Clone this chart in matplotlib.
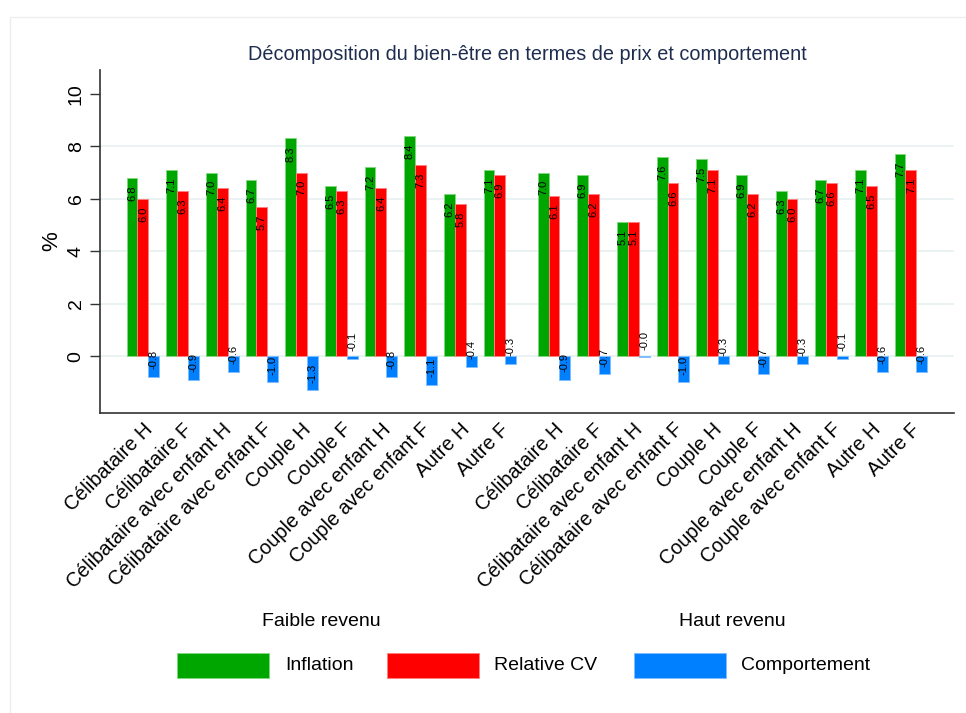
import matplotlib
matplotlib.use("Agg")
import matplotlib.pyplot as plt
from matplotlib.patches import Rectangle
from matplotlib.transforms import blended_transform_factory
import numpy as np

plt.rcParams['font.family'] = ['Liberation Sans', 'DejaVu Sans']

categories = ["Célibataire H", "Célibataire F", "Célibataire avec enfant H",
              "Célibataire avec enfant F", "Couple H", "Couple F",
              "Couple avec enfant H", "Couple avec enfant F", "Autre H", "Autre F"]
groups = ["Faible revenu", "Haut revenu"]
series_names = ["Inflation", "Relative CV", "Comportement"]

inflation_low = [6.8, 7.1, 7.0, 6.7, 8.3, 6.5, 7.2, 8.4, 6.2, 7.1]
relcv_low = [6.0, 6.3, 6.4, 5.7, 7.0, 6.3, 6.4, 7.3, 5.8, 6.9]
comport_low = [-0.8, -0.9, -0.6, -1.0, -1.3, -0.1, -0.8, -1.1, -0.4, -0.3]

inflation_high = [7.0, 6.9, 5.1, 7.6, 7.5, 6.9, 6.3, 6.7, 7.1, 7.7]
relcv_high = [6.1, 6.2, 5.1, 6.6, 7.1, 6.2, 6.0, 6.6, 6.5, 7.1]
comport_high = [-0.9, -0.7, -0.04, -1.0, -0.3, -0.7, -0.3, -0.1, -0.6, -0.6]

colors = ["#00a600", "#ff0000", "#0080ff"]
edges = ["#80d880", "#ff8080", "#80c0ff"]

W, H = 966, 713
fig = plt.figure(figsize=(W / 100, H / 100), dpi=100)

# faint outer frame of the graph region
fig.add_artist(Rectangle((10 / W, -0.05), 1.1, 1 - 17 / H + 0.05, transform=fig.transFigure,
                         fill=False, edgecolor="#eeeeee", linewidth=1.0))

ax = fig.add_axes([100 / W, 1 - 413 / H, 854 / W, 343 / H])

n = len(categories)
gap = 0.365
centers = np.concatenate([np.arange(n), np.arange(n) + n + gap])
series = [inflation_low + inflation_high, relcv_low + relcv_high, comport_low + comport_high]
bw = 0.275

for gy in [0, 2, 4, 6, 8]:
    ax.axhline(gy, color="#eaf2f3", linewidth=1.4, zorder=0)

for k, vals in enumerate(series):
    xs = centers + (k - 1) * bw
    ax.bar(xs, vals, width=bw, color=colors[k], edgecolor=edges[k], linewidth=0.7, zorder=2)
    for x, v in zip(xs, vals):
        if v >= 0:
            ax.annotate(f"{v:.1f}", (x, v), xytext=(0, -5.5), textcoords="offset points",
                        rotation=90, ha="center", va="top", fontsize=8, color="black", zorder=3)
        else:
            ax.annotate(f"{v:.1f}", (x, v), xytext=(0, 5.5), textcoords="offset points",
                        rotation=90, ha="center", va="bottom", fontsize=8, color="black", zorder=3)

ax.set_xlim(-1.083, 2 * n - 1 + gap + 1.086)
ax.set_ylim(-2.17, 10.91)
ax.set_yticks([0, 2, 4, 6, 8, 10])
ax.set_yticklabels(["0", "2", "4", "6", "8", "10"], rotation=90, va="center", fontsize=14)
ax.tick_params(axis="y", length=7, width=1.0, color="#333333", pad=4)

ax.set_xticks(centers)
ax.set_xticklabels(categories * 2, rotation=45, ha="right", rotation_mode="anchor", fontsize=14.3)
ax.tick_params(axis="x", length=0, pad=5)

for s in ["top", "right"]:
    ax.spines[s].set_visible(False)
for s in ["left", "bottom"]:
    ax.spines[s].set_color("#333333")
    ax.spines[s].set_linewidth(1.2)

ax.set_ylabel("%", fontsize=16, labelpad=4)

fig.text(527 / W, 1 - 55 / H, "Décomposition du bien-être en termes de prix et comportement",
         fontsize=14.3, color="#1e2d4f", ha="center", va="center")

# group labels
tr = blended_transform_factory(ax.transData, fig.transFigure)
ax.text(np.mean(centers[:n]), 1 - 622 / H, groups[0], transform=tr, ha="center", va="center", fontsize=14)
ax.text(np.mean(centers[n:]), 1 - 622 / H, groups[1], transform=tr, ha="center", va="center", fontsize=14)

# legend
patch_x = [177, 387, 634]
text_x = [285, 494, 741]
for k in range(3):
    fig.add_artist(Rectangle((patch_x[k] / W, 1 - 678 / H), 92 / W, 25 / H, transform=fig.transFigure,
                             facecolor=colors[k], edgecolor=edges[k], linewidth=0.7))
    fig.text(text_x[k] / W, 1 - 666 / H, series_names[k], ha="left", va="center", fontsize=14)

fig.savefig("out.png", dpi=100)
